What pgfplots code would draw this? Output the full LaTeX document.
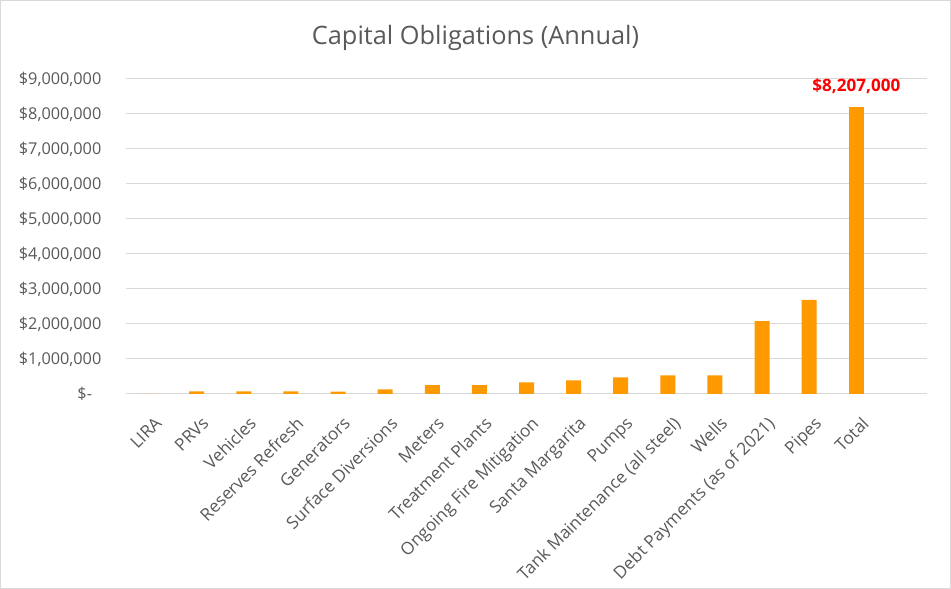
\documentclass[border=0pt]{standalone}
\usepackage{pgfplots}
\pgfplotsset{compat=1.18}
\usepackage{fontspec}
\setmainfont{Open Sans}
\definecolor{barorange}{RGB}{255,153,0}
\definecolor{txtgray}{RGB}{89,89,89}
\definecolor{gridgray}{RGB}{217,217,217}
\begin{document}
\begin{tikzpicture}
\draw[gridgray, line width=0.75pt] (0.375pt,0.375pt) rectangle (712.875pt,441.375pt);
\node[txtgray, font=\fontsize{19}{23}\selectfont] at (356.6pt,413.25pt) {Capital Obligations (Annual)};
\begin{axis}[
  at={(94.5pt,146.25pt)}, anchor=south west, scale only axis,
  width=600.75pt, height=236.25pt,
  xmin=-0.5, xmax=16.5, ymin=0, ymax=9000000,
  scaled y ticks=false,
  ybar, bar width=11.25pt,
  axis line style={draw=none},
  major tick length=0pt,
  ymajorgrids, grid style={gridgray, line width=0.75pt},
  ytick={0,1000000,2000000,3000000,4000000,5000000,6000000,7000000,8000000,9000000},
  yticklabels={{\$-\phantom{0}},{\$1,000,000},{\$2,000,000},{\$3,000,000},{\$4,000,000},{\$5,000,000},{\$6,000,000},{\$7,000,000},{\$8,000,000},{\$9,000,000}},
  yticklabel style={anchor=east, xshift=-15pt, font=\fontsize{12.2}{15}\selectfont, text=txtgray},
  xtick={0,...,15},
  xticklabels={LIRA,PRVs,Vehicles,Reserves Refresh,Generators,Surface Diversions,Meters,Treatment Plants,Ongoing Fire Mitigation,Santa Margarita,Pumps,Tank Maintenance (all steel),Wells,Debt Payments (as of 2021),Pipes,Total},
  xticklabel style={yshift=-16pt, xshift=3.2pt, rotate=45, anchor=north east, inner sep=0pt, font=\fontsize{12.9}{15}\selectfont, text=txtgray},
  clip=false,
]
\addplot[fill=barorange, draw=none, bar shift=0pt] coordinates {
  (0,0) (1,75000) (2,75000) (3,75000) (4,70000) (5,130000) (6,250000) (7,250000)
  (8,330000) (9,390000) (10,475000) (11,535000) (12,535000) (13,2080000) (14,2690000)
};
\addplot[fill=barorange, draw=none, bar shift=0pt,
  nodes near coords={\textbf{\$8,207,000}},
  nodes near coords style={anchor=south, yshift=6pt, text=red, font=\fontsize{12.8}{15}\selectfont}] coordinates {
  (15,8207000)
};
\end{axis}
\end{tikzpicture}
\end{document}
